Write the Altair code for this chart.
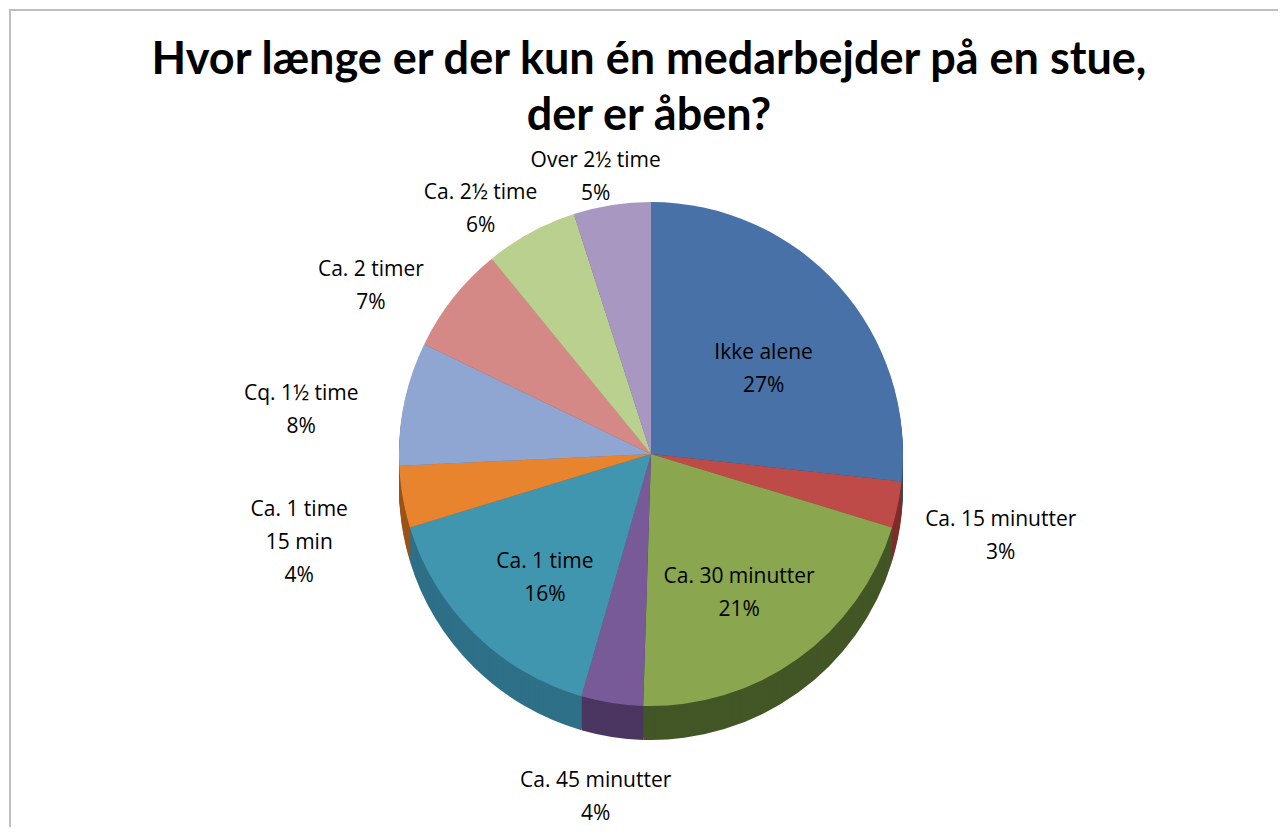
import altair as alt
import pandas as pd

# ---- data ----
categories = ["Ikke alene", "Ca. 15 minutter", "Ca. 30 minutter", "Ca. 45 minutter",
              "Ca. 1 time", "Ca. 1 time 15 min", "Cq. 1½ time", "Ca. 2 timer",
              "Ca. 2½ time", "Over 2½ time"]
percent = [27, 3, 21, 4, 16, 4, 8, 7, 6, 5]
title_lines = ["Hvor længe er der kun én medarbejder på en stue,", "der er åben?"]

# ---- styles ----
top_colors = ["#4771A7", "#BE4B48", "#8AA64F", "#785A98", "#4196AF",
              "#E8842E", "#8FA6D2", "#D58987", "#B9D08F", "#A797C1"]
side_colors = ["#2E4C73", "#7E2E2C", "#435626", "#4A3660", "#2E7088",
               "#9C5418", "#5E7198", "#94504E", "#7A8E57", "#6E6090"]
TITLE_FONT = "Lato"
LABEL_FONT = "Open Sans"
W, H = 1270, 819
CX, CY = 642, 445
R = 252
DEPTH = 34

df = pd.DataFrame({"cat": categories, "pct": percent, "idx": list(range(len(categories)))})

base = alt.Chart(df)
theta = alt.Theta("pct:Q", stack=True)
order = alt.Order("idx:Q", sort="ascending")

layers = []
# extruded side: stacked darker copies, deepest first
for d in range(DEPTH, 0, -2):
    layers.append(
        base.mark_arc(outerRadius=R, stroke=None).encode(
            theta=theta, order=order,
            fill=alt.Fill("cat:N", scale=alt.Scale(domain=categories, range=side_colors), legend=None),
            x=alt.value(CX), y=alt.value(CY + d),
        )
    )

top = base.mark_arc(outerRadius=R, stroke=None).encode(
    theta=theta, order=order,
    color=alt.Color("cat:N", scale=alt.Scale(domain=categories, range=top_colors), legend=None),
    x=alt.value(CX), y=alt.value(CY),
)
layers.append(top)

labels = base.transform_window(
    cum="sum(pct)", sort=[alt.SortField("idx")], frame=[None, 0]
).transform_joinaggregate(
    total="sum(pct)"
).transform_calculate(
    mid="2*PI*(datum.cum - datum.pct/2)/datum.total",
    inside="datum.pct >= 15",
    txt="replace(datum.cat, 'time 15', 'time\\n15') + '\\n' + datum.pct + '%'",
).transform_calculate(
    lx=f"datum.inside ? {CX} + {R*0.6}*sin(datum.mid) : {CX} + {R+105}*sin(datum.mid)",
    ly=f"datum.inside ? {CY} - {R*0.6}*cos(datum.mid) : {CY} - {R+45}*cos(datum.mid) + max(0, -cos(datum.mid))*{DEPTH}",
).mark_text(font=LABEL_FONT, fontSize=21, lineBreak="\n", lineHeight=33,
            align="center", baseline="middle", color="#000000").encode(
    x=alt.X("lx:Q", scale=None, axis=None),
    y=alt.Y("ly:Q", scale=None, axis=None),
    text="txt:N",
)
layers.append(labels)

t1 = alt.Chart(pd.DataFrame({"t": [title_lines[0]]})).mark_text(
    font=TITLE_FONT, fontSize=45, fontWeight="bold", align="center", baseline="alphabetic", color="#000000"
).encode(text="t:N", x=alt.value(640), y=alt.value(65))
t2 = alt.Chart(pd.DataFrame({"t": [title_lines[1]]})).mark_text(
    font=TITLE_FONT, fontSize=45, fontWeight="bold", align="center", baseline="alphabetic", color="#000000"
).encode(text="t:N", x=alt.value(640), y=alt.value(121))
layers += [t1, t2]

# chart-area border (visible on the left and top edges only)
border_left = alt.Chart(pd.DataFrame({"k": [0]})).mark_rule(color="#BFBFBF", strokeWidth=2).encode(
    x=alt.value(1), y=alt.value(0), y2=alt.value(H))
border_top = alt.Chart(pd.DataFrame({"k": [0]})).mark_rule(color="#BFBFBF", strokeWidth=2).encode(
    x=alt.value(0), x2=alt.value(W), y=alt.value(1))
layers += [border_left, border_top]

chart = alt.layer(*layers).properties(
    width=W, height=H, padding=0,
    autosize=alt.AutoSizeParams(type="fit", contains="padding"),
    background="#FFFFFF",
).configure_view(stroke=None)

chart.save("out.html", embed_options={"renderer": "svg", "actions": False})
